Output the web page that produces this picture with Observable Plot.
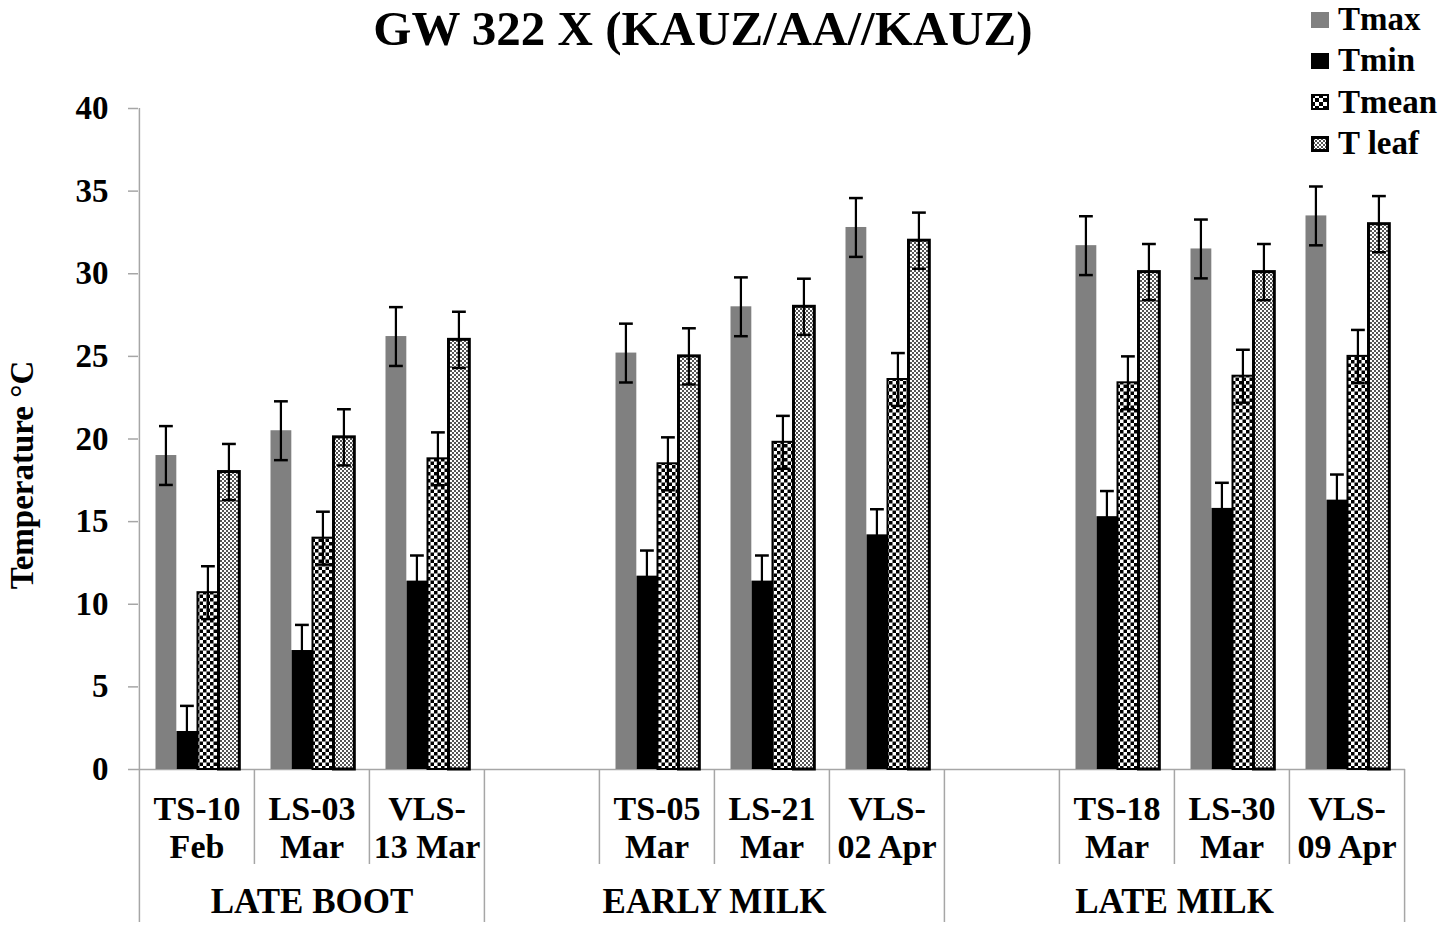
<!DOCTYPE html>
<html><head><meta charset="utf-8">
<script src="https://cdn.jsdelivr.net/npm/d3@7"></script>
<script src="https://cdn.jsdelivr.net/npm/@observablehq/plot@0.6"></script>
<style>
body{margin:0;background:#fff;font-family:"Liberation Serif","Times New Roman",serif;}
#wrap{position:relative;width:1453px;height:929px;overflow:hidden;background:#fff;}
#title{height:52px;line-height:normal;font-size:49px;font-weight:bold;text-align:center;width:1406px;white-space:nowrap;color:#000;padding-top:0;}
#legend{position:absolute;left:1311px;top:-1px;}
.item{height:41.3px;display:flex;align-items:center;font-size:33px;font-weight:bold;color:#000;white-space:nowrap;}
.item span{line-height:1;}
.item svg{margin-right:9px;flex:none;}
</style></head><body>
<div id="wrap"><div id="title">GW 322 X (KAUZ/AA//KAUZ)</div><div id="chart"></div><div id="legend"></div></div>
<script>
// ---- data ----
const categories = ["TS-10\nFeb","LS-03\nMar","VLS-\n13 Mar","TS-05\nMar","LS-21\nMar","VLS-\n02 Apr","TS-18\nMar","LS-30\nMar","VLS-\n09 Apr"];
const groups = ["LATE BOOT","EARLY MILK","LATE MILK"];
const groupOf = [0,0,0,1,1,1,2,2,2];
const series = ["Tmax","Tmin","Tmean","T leaf"];
const tmax  = [19.0, 20.5, 26.2, 25.2, 28.0, 32.8, 31.7, 31.5, 33.5];
const tmin  = [2.3, 7.2, 11.4, 11.7, 11.4, 14.2, 15.3, 15.8, 16.3];
const tmean = [10.7, 14.0, 18.8, 18.5, 19.8, 23.6, 23.4, 23.8, 25.0];
const tleaf = [18.0, 20.1, 26.0, 25.0, 28.0, 32.0, 30.1, 30.1, 33.0];
const seriesErr = [1.78, 1.55, 1.6, 1.7];
const yTicks = [0,5,10,15,20,25,30,35,40];

// ---- build table ----
const values = [tmax, tmin, tmean, tleaf];
const rows = [];
categories.forEach((c, j) => series.forEach((s, i) => rows.push({cat: c, series: s, i, value: values[i][j], lo: values[i][j] - seriesErr[i], hi: values[i][j] + seriesErr[i]})));
const xDomain = [];
const groupSpan = [];
groups.forEach((g, gi) => {
  const a = xDomain.length;
  if (gi > 0) xDomain.push("gap " + gi);
  categories.forEach((c, j) => { if (groupOf[j] === gi) xDomain.push(c); });
  groupSpan.push({label: g, a, b: xDomain.length - 1});
});

// ---- layout ----
const W = 1453, H = 877, mL = 138, mR = 48, mT = 56, mB = 160;
const bw = (W - mL - mR) / xDomain.length;
const padO = 16.5, barW = 21, capW = 14, errW = 2.4;
const ppu = (H - mT - mB) / 40;
const gray = "#a6a6a6";
const font = "Liberation Serif, Times New Roman, serif";
const fills = ["#808080", "#000000", "url(#pMean)", "url(#pLeaf)"];
const strokes = [null, null, "#000", "#000"];
const strokeWs = [0, 0, 2, 3];

const groupStarts = new Set(groupSpan.map(g => xDomain[g.a]));
const grpOdd = groupSpan.filter(g => (g.a + g.b) % 2 === 0).map(g => ({...g, x: xDomain[(g.a + g.b) / 2]}));
const grpEven = groupSpan.filter(g => (g.a + g.b) % 2 === 1).map(g => ({...g, x: xDomain[Math.floor((g.a + g.b) / 2)]}));

const marks = [
  Plot.ruleY([0], {stroke: gray, strokeWidth: 1.5}),
  Plot.ruleX([xDomain[0]], {x: d => d, dx: -bw / 2, y1: 0, y2: 40, stroke: gray, strokeWidth: 1.5}),
  Plot.ruleX(xDomain, {x: d => d, dx: -bw / 2, y1: 0, y2: d => groupStarts.has(d) ? -153 / ppu : -95 / ppu, stroke: gray, strokeWidth: 1.5}),
  Plot.ruleX([xDomain[xDomain.length - 1]], {x: d => d, dx: bw / 2, y1: 0, y2: -153 / ppu, stroke: gray, strokeWidth: 1.5}),
  Plot.axisY({ticks: yTicks, tickSize: 10, tickPadding: 20, stroke: gray, strokeWidth: 1.5, fill: "#000", fontSize: 33, fontWeight: "bold", label: null, tickFormat: d => String(d)})
];
series.forEach((s, i) => {
  const d = rows.filter(r => r.i === i);
  marks.push(Plot.barY(d, {x: "cat", y: "value", fill: fills[i], stroke: strokes[i], strokeWidth: strokeWs[i],
    insetLeft: padO + i * barW, insetRight: bw - padO - (i + 1) * barW}));
});
series.forEach((s, i) => {
  const d = rows.filter(r => r.i === i);
  const c = padO + (i + 0.5) * barW;
  marks.push(Plot.barY(d, {x: "cat", y1: "lo", y2: "hi", fill: "#000", insetLeft: c - errW / 2, insetRight: bw - c - errW / 2}));
  marks.push(Plot.tickY(d, {x: "cat", y: "hi", stroke: "#000", strokeWidth: 2.5, insetLeft: c - capW / 2, insetRight: bw - c - capW / 2}));
  marks.push(Plot.tickY(d, {x: "cat", y: "lo", stroke: "#000", strokeWidth: 2.5, insetLeft: c - capW / 2, insetRight: bw - c - capW / 2}));
});
marks.push(
  Plot.text(categories, {x: d => d, text: d => d, frameAnchor: "bottom", dy: 57.5, lineAnchor: "middle", lineHeight: 1.12, fontSize: 34, fontWeight: "bold", fill: "#000"}),
  Plot.text(grpOdd, {x: "x", text: "label", frameAnchor: "bottom", dy: 132, lineAnchor: "middle", fontSize: 35, fontWeight: "bold", fill: "#000"}),
  Plot.text(grpEven, {x: "x", text: "label", dx: bw / 2, frameAnchor: "bottom", dy: 132, lineAnchor: "middle", fontSize: 35, fontWeight: "bold", fill: "#000"}),
  Plot.text(["Temperature °C"], {frameAnchor: "left", textAnchor: "middle", dx: -116, dy: 36, rotate: -90, fontSize: 33, fontWeight: "bold", fill: "#000"})
);

const chart = Plot.plot({
  width: W, height: H, marginLeft: mL, marginRight: mR, marginTop: mT, marginBottom: mB,
  x: {type: "band", domain: xDomain, padding: 0, axis: null},
  y: {domain: [0, 40]},
  style: {fontFamily: font, background: "#fff", color: "#000", overflow: "visible"},
  marks
});

const defs = `
<pattern id="pMean" patternUnits="userSpaceOnUse" width="7" height="7">
  <rect width="7" height="7" fill="#fff"/><rect width="3.5" height="3.5" fill="#000"/><rect x="3.5" y="3.5" width="3.5" height="3.5" fill="#000"/>
</pattern>
<pattern id="pLeaf" patternUnits="userSpaceOnUse" width="4" height="4">
  <rect width="4" height="4" fill="#fff"/><rect width="2" height="2" fill="#555"/><rect x="2" y="2" width="2" height="2" fill="#555"/>
</pattern>`;
d3.select(chart).insert("defs", ":first-child").html(defs);
document.getElementById("chart").appendChild(chart);

// ---- legend ----
const sw = [
  `<svg width="18" height="16"><rect width="18" height="16" fill="#808080"/></svg>`,
  `<svg width="18" height="16"><rect width="18" height="16" fill="#000"/></svg>`,
  `<svg width="18" height="16"><defs><pattern id="lMean" patternUnits="userSpaceOnUse" width="8" height="8"><rect width="8" height="8" fill="#fff"/><rect width="4" height="4" fill="#000"/><rect x="4" y="4" width="4" height="4" fill="#000"/></pattern></defs><rect x="1" y="1" width="16" height="14" fill="url(#lMean)" stroke="#000" stroke-width="2"/></svg>`,
  `<svg width="18" height="16"><defs><pattern id="lLeaf" patternUnits="userSpaceOnUse" width="4" height="4"><rect width="4" height="4" fill="#fff"/><rect width="2" height="2" fill="#555"/><rect x="2" y="2" width="2" height="2" fill="#555"/></pattern></defs><rect x="1.5" y="1.5" width="15" height="13" fill="url(#lLeaf)" stroke="#000" stroke-width="3"/></svg>`
];
const leg = document.getElementById("legend");
series.forEach((s, i) => {
  const div = document.createElement("div");
  div.className = "item";
  div.innerHTML = sw[i] + "<span></span>";
  div.querySelector("span").textContent = s;
  leg.appendChild(div);
});
</script>
</body></html>
